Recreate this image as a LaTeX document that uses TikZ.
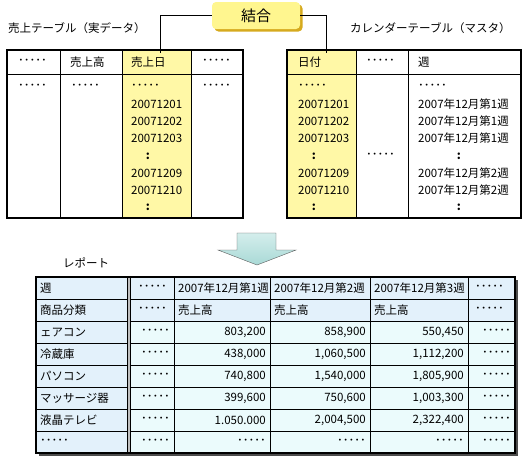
\documentclass[tikz,border=0pt]{standalone}
\usepackage{fontspec}
\setmainfont{Noto Sans CJK JP}
\usepackage{tikz}
\usetikzlibrary{shadows,positioning}

\definecolor{joinyellow}{HTML}{FFF68F}
\definecolor{joinshadow}{HTML}{D6AA1E}
\definecolor{keyyellow}{HTML}{FFF8A6}
\definecolor{arrowtop}{HTML}{D4EEEC}
\definecolor{arrowbot}{HTML}{A9D9D6}
\definecolor{hdrblue}{HTML}{E3F1FB}
\definecolor{cellcyan}{HTML}{EBFBFC}

\begin{document}
\begin{tikzpicture}[x=1pt, y=-1pt, >=latex,
    every node/.style={font=\fontsize{11.5}{13}\selectfont, inner sep=0pt},
    lt/.style={anchor=west},
    rt/.style={anchor=east}]

    \useasboundingbox (0,0) rectangle (528,456);

    % Tabella vendite (sinistra)
    \node[lt] (ttlSales) at (8,28) {売上テーブル（実データ）};
    \fill[keyyellow] (122,50) rectangle (191,218);
    \draw (7,74) -- (243,74);
    \foreach \c in {60,122,191} \draw (\c,50) -- (\c,218);
    \draw[line width=2pt] (7,50) rectangle (243,218);

    \node[lt] at (18,62) {･････};
    \node[lt] at (70,62) {売上高};
    \node[lt] (hdrSales) at (131,62) {売上日};
    \node[lt] at (202,62) {･････};
    \node[lt] at (18,87) {･････};
    \node[lt] at (71,87) {･････};
    \node[lt] at (202,87) {･････};
    \foreach \y/\t in {87/･････, 104/20071201, 121/20071202, 138/20071203,
                       173/20071209, 190/20071210}
        \node[lt] at (131,\y) {\t};
    \foreach \y in {156,207} \node at (148,\y) {\textbf{:}};

    % Tabella calendario (destra)
    \node[lt] (ttlCal) at (350,28) {カレンダーテーブル（マスタ）};
    \fill[keyyellow] (287,50) rectangle (356,218);
    \draw (287,74) -- (521,74);
    \foreach \c in {356,408} \draw (\c,50) -- (\c,218);
    \draw[line width=2pt] (287,50) rectangle (521,218);

    \node[lt] (hdrCal) at (298,62) {日付};
    \node[lt] at (366,62) {･････};
    \node[lt] at (418,62) {週};
    \foreach \y/\t in {87/･････, 104/20071201, 121/20071202, 138/20071203,
                       173/20071209, 190/20071210}
        \node[lt] at (298,\y) {\t};
    \foreach \y in {156,207} \node at (314,\y) {\textbf{:}};
    \node[lt] at (366,156) {･････};
    \foreach \y/\t in {87/･････, 104/2007年12月第1週, 121/2007年12月第1週,
                       138/2007年12月第1週, 173/2007年12月第2週, 190/2007年12月第2週}
        \node[lt] at (418,\y) {\t};
    \foreach \y in {156,207} \node at (459,\y) {\textbf{:}};

    % Nodo "結合" e collegamenti
    \node[fill=joinyellow, rounded corners=4pt, minimum width=88pt, minimum height=27pt,
          drop shadow={shadow xshift=2.5pt, shadow yshift=-2.5pt, fill=joinshadow, opacity=1},
          font=\fontsize{15}{17}\selectfont] (join) at (256,15.5) {結合};
    \coordinate (keySales) at (160,53);
    \coordinate (keyCal) at (326,53);
    \draw (keySales) |- (join.west);
    \draw (join.east) -| (keyCal);

    % Freccia verso il basso
    \draw[gray!70!black, top color=arrowtop, bottom color=arrowbot]
        (237,233) -- (276,233) -- (276,250) -- (296,250) -- (257,265)
        -- (218,250) -- (237,250) -- cycle;

    % Report
    \node[lt] (ttlRep) at (63,263) {レポート};
    \fill[black!70] (39,280) rectangle (518,456);
    \fill[hdrblue] (36,277) rectangle (515,453);
    \fill[cellcyan] (128,321) rectangle (515,453);
    \foreach \r in {299,321,343,365,387,409,431} \draw (36,\r) -- (515,\r);
    \foreach \c in {174,270,370,468} \draw (\c,277) -- (\c,453);
    \fill[black!25] (127,277) rectangle (130,453);
    \draw (127,277) -- (127,453);
    \draw (130,277) -- (130,453);
    \draw[line width=1.5pt] (36,277) rectangle (515,453);

    % intestazioni
    \node[lt] at (40,288) {週};
    \node[lt] at (138,288) {･････};
    \node[lt] at (178,288) {2007年12月第1週};
    \node[lt] at (274,288) {2007年12月第2週};
    \node[lt] at (374,288) {2007年12月第3週};
    \node[lt] at (475,288) {･････};
    \node[lt] at (40,310) {商品分類};
    \node[lt] at (138,310) {･････};
    \node[lt] at (178,310) {売上高};
    \node[lt] at (274,310) {売上高};
    \node[lt] at (374,310) {売上高};
    \node[lt] at (475,310) {･････};

    % righe dati
    \foreach \y/\n/\a/\b/\c in {332/ェアコン/{803,200}/{858,900}/{550,450},
            354/冷蔵庫/{438,000}/{1,060,500}/{1,112,200},
            376/パソコン/{740,800}/{1,540,000}/{1,805,900},
            398/マッサージ器/{399,600}/{750,600}/{1,003,300},
            420/液晶テレビ/{1.050.000}/{2,004,500}/{2,322,400},
            442/･････/･････/･････/･････} {
        \node[lt] at (40,\y) {\n};
        \node[rt] at (170,\y) {･････};
        \node[rt] at (266,\y) {\a};
        \node[rt] at (366,\y) {\b};
        \node[rt] at (464,\y) {\c};
        \node[rt] at (511,\y) {･････};
    }

\end{tikzpicture}
\end{document}
